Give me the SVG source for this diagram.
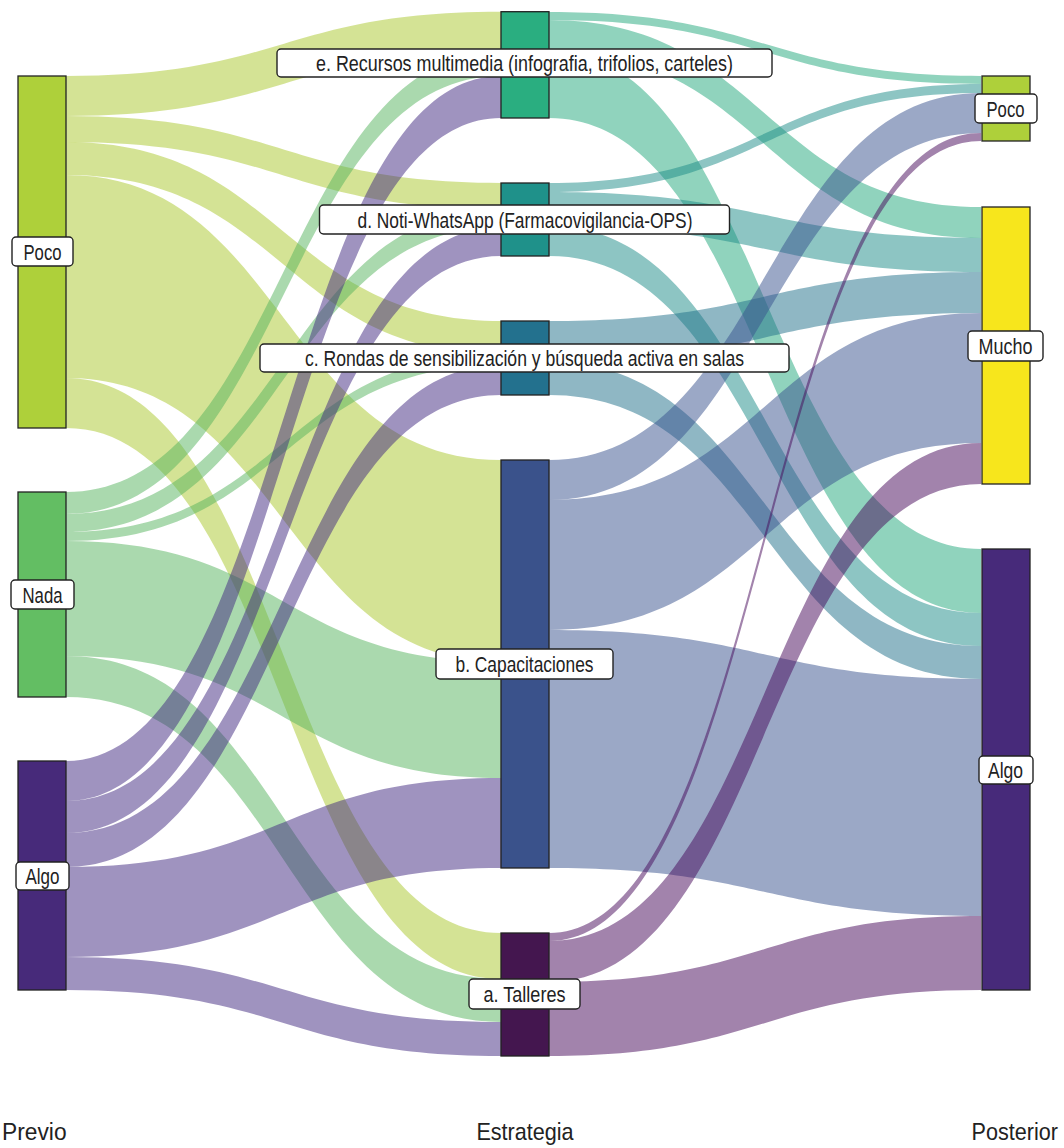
<svg xmlns="http://www.w3.org/2000/svg" width="1064" height="1148" viewBox="0 0 1064 1148">
<style>
.lk{fill-opacity:0.5;stroke:none}
.P{fill:#a9c72b}.N{fill:#55b35d}.A{fill:#3f277f}
.E{fill:#21a77b}.D{fill:#1b8b87}.C{fill:#1f6f89}.B{fill:#37518d}.T{fill:#45085a}
.nd{stroke:#222;stroke-width:1.3}
.lb rect{fill:#fff;stroke:#222;stroke-width:1.4}
.lb text{font-family:"Liberation Sans Narrow","Liberation Sans",Arial,sans-serif;font-size:21.5px;fill:#222;text-anchor:middle}
.ax{font-family:"Liberation Sans Narrow","Liberation Sans",Arial,sans-serif;font-size:24px;fill:#222}
</style>
<rect width="1064" height="1148" fill="#fff"/>
<g id="connectors">
<path class="lk P" d="M66,76 C283.5,76 283.5,11.7 501,11.7 L501,51.7 C283.5,51.7 283.5,116 66,116 Z"/>
<path class="lk P" d="M66,116 C283.5,116 283.5,183 501,183 L501,209 C283.5,209 283.5,142 66,142 Z"/>
<path class="lk P" d="M66,142 C283.5,142 283.5,321 501,321 L501,354 C283.5,354 283.5,175 66,175 Z"/>
<path class="lk P" d="M66,175 C283.5,175 283.5,460 501,460 L501,662 C283.5,662 283.5,378 66,378 Z"/>
<path class="lk P" d="M66,378 C283.5,378 283.5,933 501,933 L501,979 C283.5,979 283.5,428 66,428 Z"/>
<path class="lk N" d="M66,492 C283.5,492 283.5,51.7 501,51.7 L501,76 C283.5,76 283.5,514 66,514 Z"/>
<path class="lk N" d="M66,514 C283.5,514 283.5,209 501,209 L501,227 C283.5,227 283.5,532 66,532 Z"/>
<path class="lk N" d="M66,532 C283.5,532 283.5,354 501,354 L501,365 C283.5,365 283.5,541 66,541 Z"/>
<path class="lk N" d="M66,541 C283.5,541 283.5,662 501,662 L501,778 C283.5,778 283.5,656 66,656 Z"/>
<path class="lk N" d="M66,656 C283.5,656 283.5,979 501,979 L501,1022 C283.5,1022 283.5,697 66,697 Z"/>
<path class="lk A" d="M66,761 C283.5,761 283.5,76 501,76 L501,118 C283.5,118 283.5,801 66,801 Z"/>
<path class="lk A" d="M66,801 C283.5,801 283.5,227 501,227 L501,256 C283.5,256 283.5,833 66,833 Z"/>
<path class="lk A" d="M66,833 C283.5,833 283.5,365 501,365 L501,395 C283.5,395 283.5,867 66,867 Z"/>
<path class="lk A" d="M66,867 C283.5,867 283.5,778 501,778 L501,868 C283.5,868 283.5,957 66,957 Z"/>
<path class="lk A" d="M66,957 C283.5,957 283.5,1022 501,1022 L501,1056 C283.5,1056 283.5,990 66,990 Z"/>
<path class="lk E" d="M549,12 C765,12 765,76 981,76 L981,84 C765,84 765,20 549,20 Z"/>
<path class="lk E" d="M549,20 C765,20 765,207 981,207 L981,238 C765,238 765,51 549,51 Z"/>
<path class="lk E" d="M549,51 C765,51 765,549 981,549 L981,613 C765,613 765,118 549,118 Z"/>
<path class="lk D" d="M549,183 C765,183 765,84 981,84 L981,93 C765,93 765,192 549,192 Z"/>
<path class="lk D" d="M549,192 C765,192 765,238 981,238 L981,272 C765,272 765,226 549,226 Z"/>
<path class="lk D" d="M549,226 C765,226 765,613 981,613 L981,646 C765,646 765,256 549,256 Z"/>
<path class="lk C" d="M549,321 C765,321 765,272 981,272 L981,313 C765,313 765,362 549,362 Z"/>
<path class="lk C" d="M549,362 C765,362 765,646 981,646 L981,679 C765,679 765,395 549,395 Z"/>
<path class="lk B" d="M549,460 C765,460 765,93 981,93 L981,133 C765,133 765,500 549,500 Z"/>
<path class="lk B" d="M549,500 C765,500 765,313 981,313 L981,443 C765,443 765,630 549,630 Z"/>
<path class="lk B" d="M549,630 C765,630 765,679 981,679 L981,916 C765,916 765,868 549,868 Z"/>
<path class="lk T" d="M549,933 C765,933 765,133 981,133 L981,141 C765,141 765,941 549,941 Z"/>
<path class="lk T" d="M549,941 C765,941 765,443 981,443 L981,484 C765,484 765,982 549,982 Z"/>
<path class="lk T" d="M549,982 C765,982 765,916 981,916 L981,990 C765,990 765,1056 549,1056 Z"/>
</g>
<g id="node-previo-poco"><rect class="nd" x="18" y="76" width="48" height="352" fill="#aed03a"/></g>
<g id="node-previo-nada"><rect class="nd" x="18" y="492" width="48" height="205" fill="#63be63"/></g>
<g id="node-previo-algo"><rect class="nd" x="18" y="761" width="48" height="229" fill="#472a7a"/></g>
<g id="node-e"><rect class="nd" x="501" y="11.7" width="48" height="106.3" fill="#2aae80"/></g>
<g id="node-d"><rect class="nd" x="501" y="183" width="48" height="73" fill="#1f918a"/></g>
<g id="node-c"><rect class="nd" x="501" y="321" width="48" height="74" fill="#23718e"/></g>
<g id="node-b"><rect class="nd" x="501" y="460" width="48" height="408" fill="#3a528b"/></g>
<g id="node-a"><rect class="nd" x="501" y="933" width="48" height="123" fill="#44164f"/></g>
<g id="node-post-poco"><rect class="nd" x="982" y="76" width="48" height="65" fill="#aed03a"/></g>
<g id="node-post-mucho"><rect class="nd" x="982" y="207" width="48" height="277" fill="#f7e61c"/></g>
<g id="node-post-algo"><rect class="nd" x="982" y="549" width="48" height="441" fill="#472a7a"/></g>
<g id="labels">
<g class="lb" id="label-previo-poco"><rect x="12" y="237" width="61" height="29" rx="4"/><text x="42.5" y="259.5" textLength="38" lengthAdjust="spacingAndGlyphs">Poco</text></g>
<g class="lb" id="label-previo-nada"><rect x="11" y="580" width="63" height="29" rx="4"/><text x="42.5" y="602.5" textLength="40" lengthAdjust="spacingAndGlyphs">Nada</text></g>
<g class="lb" id="label-previo-algo"><rect x="16" y="862" width="53" height="28" rx="4"/><text x="42.5" y="884" textLength="34" lengthAdjust="spacingAndGlyphs">Algo</text></g>
<g class="lb" id="label-e"><rect x="277" y="49" width="495" height="28" rx="4"/><text x="524.5" y="71" textLength="417" lengthAdjust="spacingAndGlyphs">e. Recursos multimedia (infografia, trifolios, carteles)</text></g>
<g class="lb" id="label-d"><rect x="319.5" y="205" width="410" height="29" rx="4"/><text x="525" y="227.5" textLength="335" lengthAdjust="spacingAndGlyphs">d. Noti-WhatsApp (Farmacovigilancia-OPS)</text></g>
<g class="lb" id="label-c"><rect x="260" y="344" width="529" height="28" rx="4"/><text x="524.5" y="366" textLength="439" lengthAdjust="spacingAndGlyphs">c. Rondas de sensibilización y búsqueda activa en salas</text></g>
<g class="lb" id="label-b"><rect x="436" y="649" width="177" height="30" rx="4"/><text x="524.5" y="672" textLength="138" lengthAdjust="spacingAndGlyphs">b. Capacitaciones</text></g>
<g class="lb" id="label-a"><rect x="469" y="979" width="111" height="30" rx="4"/><text x="524.5" y="1002" textLength="82" lengthAdjust="spacingAndGlyphs">a. Talleres</text></g>
<g class="lb" id="label-post-poco"><rect x="975" y="94" width="62" height="29" rx="4"/><text x="1005.5" y="116.5" textLength="38" lengthAdjust="spacingAndGlyphs">Poco</text></g>
<g class="lb" id="label-post-mucho"><rect x="968" y="331" width="75" height="30" rx="4"/><text x="1005.5" y="354" textLength="54" lengthAdjust="spacingAndGlyphs">Mucho</text></g>
<g class="lb" id="label-post-algo"><rect x="979" y="756" width="54" height="28" rx="4"/><text x="1005.5" y="778" textLength="35" lengthAdjust="spacingAndGlyphs">Algo</text></g>
</g>
<g id="axis-labels">
<text class="ax" transform="translate(2,1140) scale(0.95,1)" x="0" y="0">Previo</text>
<text class="ax" transform="translate(525,1140) scale(0.9,1)" x="0" y="0" text-anchor="middle">Estrategia</text>
<text class="ax" transform="translate(1058,1140) scale(0.9,1)" x="0" y="0" text-anchor="end">Posterior</text>
</g>
</svg>
